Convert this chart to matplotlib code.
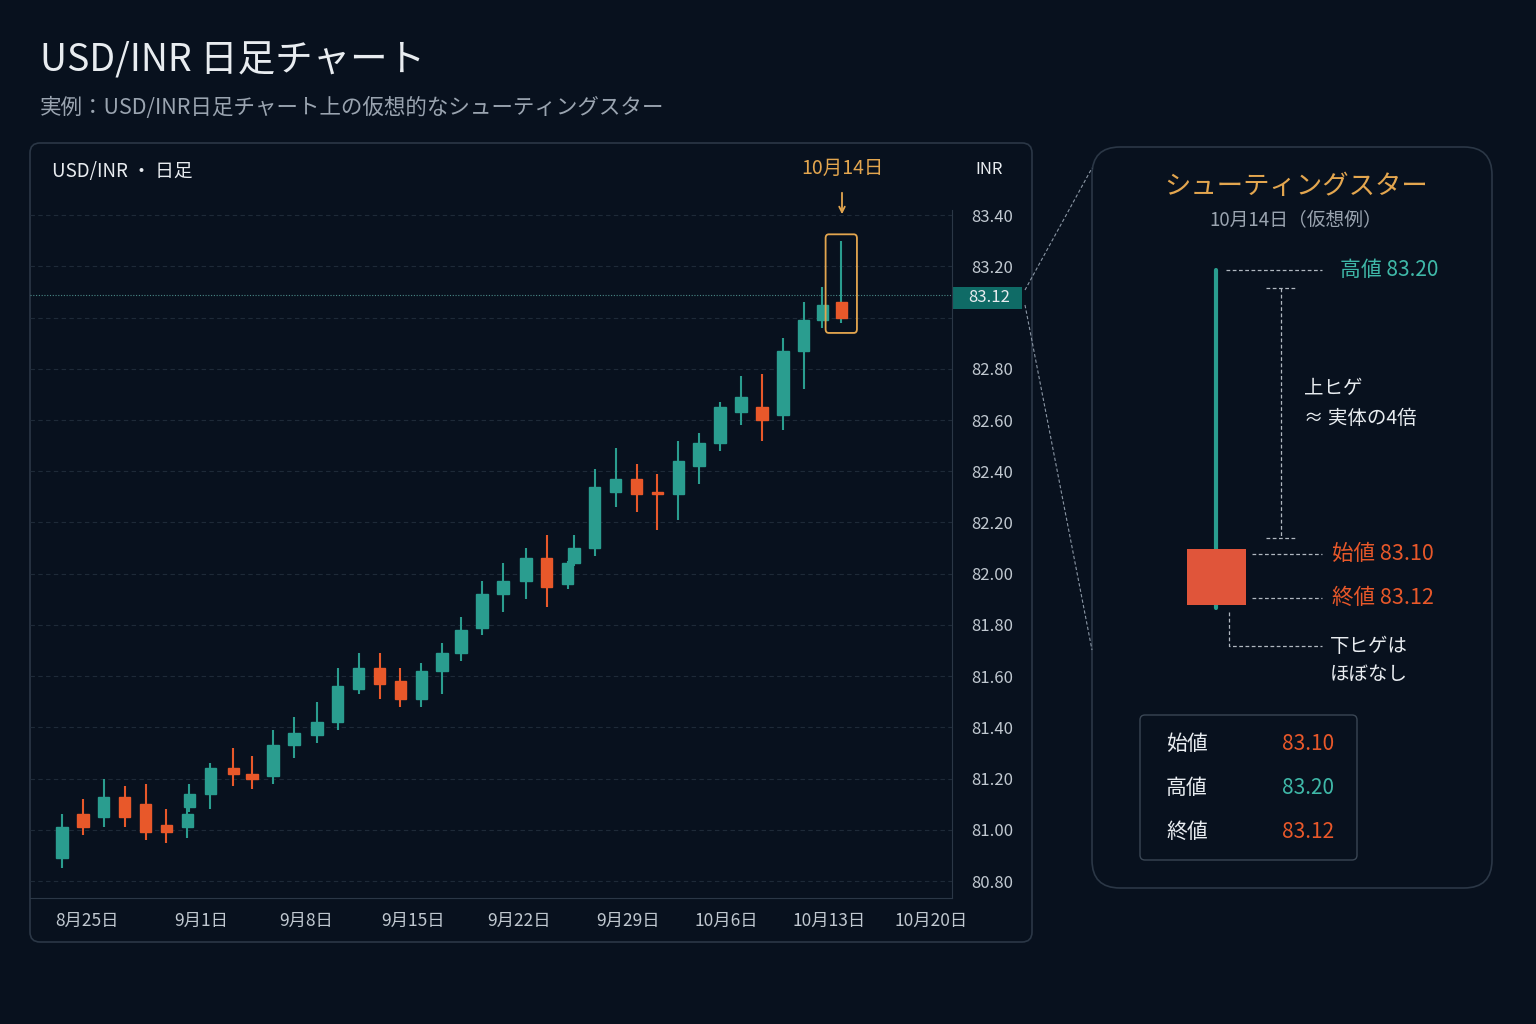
import matplotlib
matplotlib.use("Agg")
import matplotlib.pyplot as plt
from matplotlib.patches import FancyBboxPatch, Rectangle

plt.rcParams['font.family'] = ['Noto Sans CJK JP', 'DejaVu Sans']

# ---- data ----
x_pos = [0, 1, 2, 3, 4, 5, 6, 6.1, 7.1, 8.2, 9.1, 10.1, 11.1, 12.2, 13.2, 14.2, 15.2, 16.2, 17.2, 18.2,
         19.1, 20.1, 21.1, 22.2, 23.2, 24.2, 24.5, 25.5, 26.5, 27.5, 28.5, 29.5, 30.5, 31.5, 32.5, 33.5,
         34.5, 35.5, 36.4, 37.3]
opens  = [80.89, 81.06, 81.05, 81.13, 81.10, 81.02, 81.01, 81.09, 81.14, 81.24, 81.22, 81.21, 81.33, 81.37,
          81.42, 81.55, 81.63, 81.58, 81.51, 81.62, 81.69, 81.79, 81.92, 81.97, 82.06, 81.96, 82.04, 82.10,
          82.32, 82.37, 82.32, 82.31, 82.42, 82.51, 82.63, 82.65, 82.62, 82.87, 82.99, 83.06]
highs  = [81.06, 81.12, 81.20, 81.17, 81.18, 81.08, 81.10, 81.18, 81.26, 81.32, 81.29, 81.39, 81.44, 81.50,
          81.63, 81.69, 81.69, 81.63, 81.65, 81.73, 81.83, 81.97, 82.04, 82.10, 82.15, 82.05, 82.15, 82.41,
          82.49, 82.43, 82.39, 82.52, 82.55, 82.67, 82.77, 82.78, 82.92, 83.06, 83.12, 83.30]
lows   = [80.85, 80.98, 81.01, 81.01, 80.96, 80.95, 80.97, 81.07, 81.08, 81.17, 81.16, 81.18, 81.28, 81.34,
          81.39, 81.53, 81.51, 81.48, 81.48, 81.53, 81.66, 81.76, 81.85, 81.90, 81.87, 81.94, 82.03, 82.07,
          82.26, 82.24, 82.17, 82.21, 82.35, 82.48, 82.58, 82.52, 82.56, 82.72, 82.96, 82.98]
closes = [81.01, 81.01, 81.13, 81.05, 80.99, 80.99, 81.06, 81.14, 81.24, 81.22, 81.20, 81.33, 81.38, 81.42,
          81.56, 81.63, 81.57, 81.51, 81.62, 81.69, 81.78, 81.92, 81.97, 82.06, 81.95, 82.04, 82.10, 82.34,
          82.37, 82.31, 82.31, 82.44, 82.51, 82.65, 82.69, 82.60, 82.87, 82.99, 83.05, 83.00]
y_ticks = [80.80, 81.00, 81.20, 81.40, 81.60, 81.80, 82.00, 82.20, 82.40, 82.60, 82.80, 83.20, 83.40]
x_tick_pos = [1.2, 6.65, 11.7, 16.8, 21.9, 27.1, 31.8, 36.7, 41.6]
x_tick_labels = ["8月25日", "9月1日", "9月8日", "9月15日", "9月22日", "9月29日", "10月6日", "10月13日", "10月20日"]
last_line = 83.09
last_label = "83.12"
info_labels = ["始値", "高値", "終値"]
info_values = ["83.10", "83.20", "83.12"]

BG = "#08111e"
TEAL = "#2a9d8f"
ORANGE = "#e8582a"
GOLD = "#e3a64f"
GRAY = "#9aa4b0"
WHITE = "#e8ecf0"
GRID = "#1e2a38"

fig = plt.figure(figsize=(15.36, 10.24), dpi=100, facecolor=BG)
W, H = 1536, 1024

ov = fig.add_axes([0, 0, 1, 1], zorder=0)
ov.set_xlim(0, W); ov.set_ylim(H, 0); ov.axis('off')

def fx(px): return px / W
def fy(py): return 1 - py / H

ov.text(40, 60, "USD/INR 日足チャート", color=WHITE, fontsize=27, va='center', ha='left')
ov.text(40, 108, "実例：USD/INR日足チャート上の仮想的なシューティングスター", color=GRAY, fontsize=15.5, va='center')

ov.add_patch(FancyBboxPatch((30, 143), 1002, 799, boxstyle="round,pad=0,rounding_size=10",
                            fc=BG, ec="#2b3746", lw=1.2))
ov.text(52, 172, "USD/INR ・ 日足", color=WHITE, fontsize=13.5, va='center')
ov.text(989, 170, "INR", color=WHITE, fontsize=12, va='center', ha='center')

ax = fig.add_axes([fx(30), fy(898), fx(952) - fx(30), fy(190) - fy(898)], zorder=1)
ax.set_facecolor('none')
ax.set_xlim(-1.53, 42.6)
ax.set_ylim(80.734, 83.498)
for s in ['top', 'left']:
    ax.spines[s].set_visible(False)
ax.spines['right'].set_color("#2b3746"); ax.spines['bottom'].set_color("#2b3746")
ax.spines['right'].set_bounds(80.734, 83.42)
ax.yaxis.tick_right()
ax.set_yticks(y_ticks)
ax.set_yticklabels([f"{v:.2f}" for v in y_ticks])
ax.tick_params(axis='y', length=0, colors="#c0c8d0", labelsize=12, pad=14)
ax.set_xticks(x_tick_pos)
ax.set_xticklabels(x_tick_labels)
ax.tick_params(axis='x', length=0, colors="#c0c8d0", labelsize=12.5, pad=10)
for v in y_ticks + [83.0]:
    ax.axhline(v, color=GRID, lw=0.8, ls=(0, (4, 3)), zorder=0)

bw = 0.55
n = len(x_pos)
for i in range(n):
    up = closes[i] > opens[i]
    c = TEAL if up else ORANGE
    wc = TEAL if i == n - 1 else c
    ax.vlines(x_pos[i], lows[i], highs[i], color=wc, lw=1.5, zorder=2)
    lo, hi = min(opens[i], closes[i]), max(opens[i], closes[i])
    ax.add_patch(Rectangle((x_pos[i] - bw / 2, lo), bw, max(hi - lo, 0.006), fc=c, ec=c, zorder=3))

ax.axhline(last_line, color="#4a8a88", lw=0.8, ls=(0, (1, 1.5)), zorder=1)
ax.add_patch(FancyBboxPatch((x_pos[-1] - 0.75, 82.94), 1.5, 0.385, boxstyle="round,pad=0,rounding_size=0.15",
                            fc='none', ec=GOLD, lw=1.3, zorder=4, mutation_aspect=0.1))

ov.add_patch(Rectangle((952, 287), 70, 22, fc="#0f6b66", ec='none', zorder=2))
ov.text(989, 298, last_label, color=WHITE, fontsize=12, ha='center', va='center', zorder=3)

ov.text(842, 168, "10月14日", color=GOLD, fontsize=14, ha='center', va='center')
ov.annotate("", xy=(842, 217), xytext=(842, 190),
            arrowprops=dict(arrowstyle="->", color=GOLD, lw=1.3))

ov.plot([1025, 1092], [290, 168], color="#8a96a4", lw=0.8, ls=(0, (3, 2)))
ov.plot([1025, 1092], [305, 650], color="#8a96a4", lw=0.8, ls=(0, (3, 2)))

ov.add_patch(FancyBboxPatch((1092, 147), 400, 741, boxstyle="round,pad=0,rounding_size=28",
                            fc=BG, ec="#2b3746", lw=1.2))
ov.text(1296, 186, "シューティングスター", color=GOLD, fontsize=19, ha='center', va='center')
ov.text(1296, 220, "10月14日（仮想例）", color=GRAY, fontsize=13.5, ha='center', va='center')

ov.plot([1216, 1216], [270, 608], color=TEAL, lw=3, solid_capstyle='round', zorder=2)
ov.add_patch(Rectangle((1187, 549), 59, 56, fc="#e0553a", ec='none', zorder=3))

dash = (0, (3, 2))
ov.plot([1226, 1322], [270, 270], color="#b0b8c0", lw=0.9, ls=dash)
ov.text(1340, 270, "高値 83.20", color="#3fb8a8", fontsize=15, va='center')
ov.plot([1281, 1281], [288, 538], color="#b0b8c0", lw=0.9, ls=dash)
ov.plot([1266, 1296], [288, 288], color="#b0b8c0", lw=0.9, ls=dash)
ov.plot([1266, 1296], [538, 538], color="#b0b8c0", lw=0.9, ls=dash)
ov.text(1304, 389, "上ヒゲ", color=WHITE, fontsize=14, va='center')
ov.text(1304, 419, "≈ 実体の4倍", color=WHITE, fontsize=14, va='center')
ov.plot([1252, 1322], [554, 554], color="#b0b8c0", lw=0.9, ls=dash)
ov.text(1332, 554, "始値 83.10", color=ORANGE, fontsize=15.5, va='center')
ov.plot([1252, 1322], [598, 598], color="#b0b8c0", lw=0.9, ls=dash)
ov.text(1332, 598, "終値 83.12", color=ORANGE, fontsize=15.5, va='center')
ov.plot([1229, 1229, 1322], [612, 646, 646], color="#b0b8c0", lw=0.9, ls=dash)
ov.text(1330, 647, "下ヒゲは", color=WHITE, fontsize=14, va='center')
ov.text(1330, 674, "ほぼなし", color=WHITE, fontsize=14, va='center')

ov.add_patch(FancyBboxPatch((1140, 715), 217, 145, boxstyle="round,pad=0,rounding_size=5",
                            fc=BG, ec="#3a4654", lw=1.0))
val_colors = [ORANGE, "#3fb8a8", ORANGE]
for k, (lab, val) in enumerate(zip(info_labels, info_values)):
    yy = 744 + k * 44
    ov.text(1166, yy, lab, color=WHITE, fontsize=15, va='center')
    ov.text(1334, yy, val, color=val_colors[k], fontsize=15, va='center', ha='right')

fig.savefig("out.png", dpi=100, facecolor=BG)
